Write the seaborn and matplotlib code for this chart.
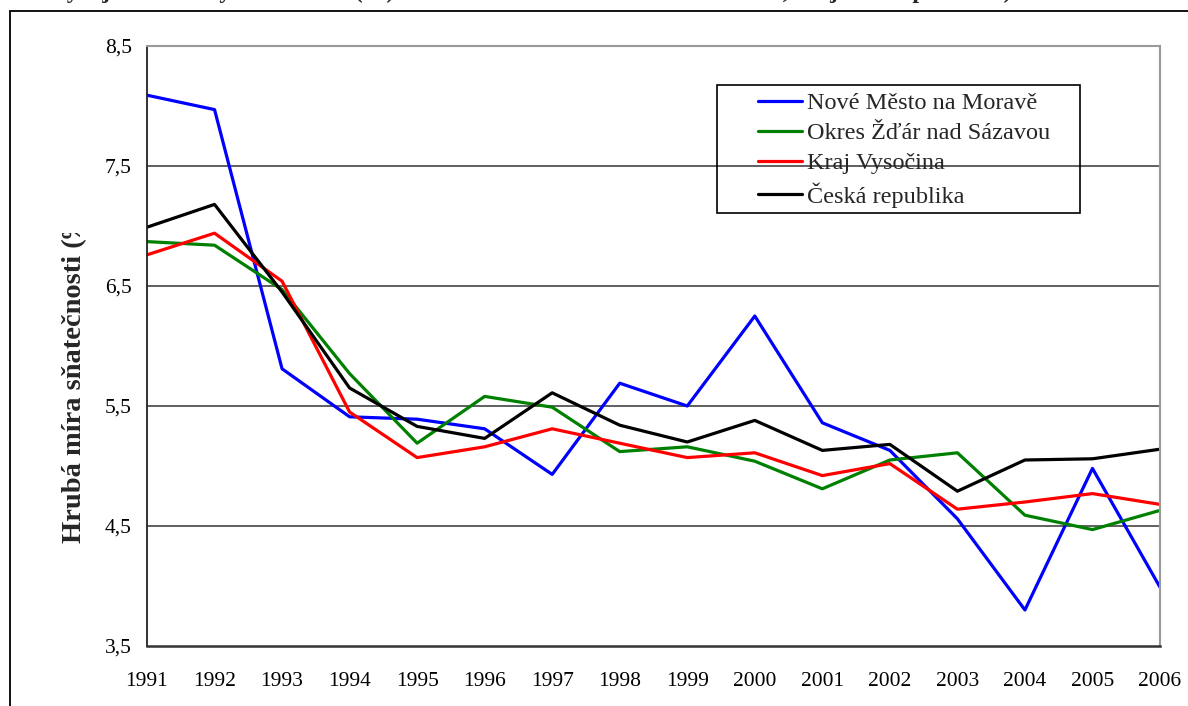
import matplotlib
matplotlib.use("Agg")
import matplotlib.pyplot as plt
import seaborn as sns
import pandas as pd
from matplotlib.patches import Rectangle
from matplotlib.transforms import Bbox, TransformedBbox
from matplotlib.ticker import FuncFormatter

years = list(range(1991, 2007))

nove_mesto = [8.09, 7.97, 5.81, 5.41, 5.39, 5.31, 4.93, 5.69, 5.50, 6.25,
              5.36, 5.13, 4.56, 3.80, 4.98, 3.99]
okres_zdar = [6.87, 6.84, 6.47, 5.77, 5.19, 5.58, 5.49, 5.12, 5.16, 5.04,
              4.81, 5.05, 5.11, 4.59, 4.47, 4.63]
kraj_vysocina = [6.76, 6.94, 6.54, 5.45, 5.07, 5.16, 5.31, 5.19, 5.07, 5.11,
                 4.92, 5.02, 4.64, 4.70, 4.77, 4.68]
ceska_republika = [6.99, 7.18, 6.45, 5.65, 5.33, 5.23, 5.61, 5.34, 5.20, 5.38,
                   5.13, 5.18, 4.79, 5.05, 5.06, 5.14]

series_names = ["Nové Město na Moravě", "Okres Žďár nad Sázavou",
                "Kraj Vysočina", "Česká republika"]
series_colors = ["#0000FF", "#008000", "#FF0000", "#000000"]

y_ticks = [3.5, 4.5, 5.5, 6.5, 7.5, 8.5]

frames = []
for name, values in zip(series_names, [nove_mesto, okres_zdar, kraj_vysocina, ceska_republika]):
    frames.append(pd.DataFrame({"rok": years, "hodnota": values, "uzemi": name}))
df = pd.concat(frames, ignore_index=True)

sns.set_style("white")
plt.rcParams["font.family"] = ["Liberation Serif", "DejaVu Serif"]
plt.rcParams["font.size"] = 15

W, H = 1188, 706
fig = plt.figure(figsize=(W / 100, H / 100), dpi=100)
ax = fig.add_axes([147 / W, 1 - 646 / H, (1160 - 147) / W, (646 - 46) / H])

sns.lineplot(data=df, x="rok", y="hodnota", hue="uzemi", hue_order=series_names,
             palette=dict(zip(series_names, series_colors)), linewidth=2.3,
             ax=ax, legend=False)

ax.set_xlim(1991, 2006)
ax.set_ylim(3.5, 8.5)
ax.set_xticks(years)
ax.set_yticks(y_ticks)
ax.yaxis.set_major_formatter(FuncFormatter(lambda v, p: f"{v:.1f}".replace(".", ",")))
ax.set_xlabel("")
ax.set_ylabel("")
ax.tick_params(axis="both", direction="out", length=5, width=1.2, colors="#333333",
               labelcolor="black", labelsize=15.5)
ax.tick_params(axis="y", pad=6)
ax.tick_params(axis="x", pad=14)

for yv in y_ticks[1:-1]:
    ax.axhline(yv, color="#444444", linewidth=1.2, zorder=0)

ax.spines["left"].set_color("#222222")
ax.spines["left"].set_linewidth(1.3)
ax.spines["bottom"].set_color("#333333")
ax.spines["bottom"].set_linewidth(1.8)
ax.spines["top"].set_color("#999999")
ax.spines["top"].set_linewidth(1.5)
ax.spines["right"].set_color("#999999")
ax.spines["right"].set_linewidth(1.5)

# legend: frameless legend plus a plain box drawn around it
handles = [plt.Line2D([], [], color=c, linewidth=2.3) for c in series_colors]
fig.legend(handles, series_names, loc="upper left",
           bbox_to_anchor=(746 / W, 1 - 80 / H), frameon=False, fontsize=17.5,
           handlelength=1.8, handletextpad=0.2, labelspacing=0.33, borderpad=0)
fig.add_artist(Rectangle((717 / W, 1 - 213 / H), (1080 - 717) / W, (213 - 85) / H,
                         transform=fig.transFigure, fill=False, edgecolor="black",
                         linewidth=1.2))

# y label, cut off at the top like in the source
ylab = fig.text(75 / W, 1 - 543 / H, "Hrubá míra sňatečnosti (‰)", rotation=90,
                ha="center", va="bottom", fontsize=20.5, fontweight="bold")
ylab.set_clip_box(TransformedBbox(Bbox.from_extents(0, 0, 1, 1 - 233 / H), fig.transFigure))
ylab.set_clip_on(True)

# title above the visible area, only its descenders peek in
fig.text(-0.01, 1 + 2 / H, "Graf: Vývoj hrubé míry sňatečnosti (‰) v Novém Městě ve srovnání s okresem, krajem a republikou)",
         ha="left", va="baseline", fontsize=17, fontweight="bold")

# outer chart border
fig.add_artist(Rectangle((10 / W, -0.05), 1.1, 1.05 - 11 / H, transform=fig.transFigure,
                         fill=False, edgecolor="black", linewidth=1.3))

fig.savefig("out.png", dpi=100)
